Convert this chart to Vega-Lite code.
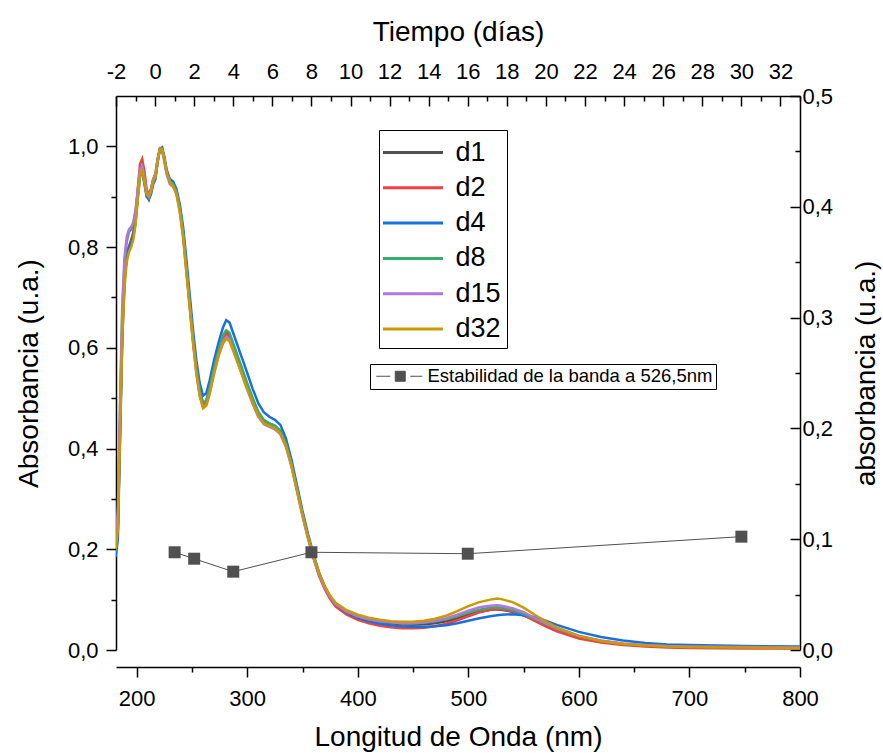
{
  "$schema": "https://vega.github.io/schema/vega-lite/v6.json",
  "width": 684,
  "height": 554,
  "autosize": "none",
  "padding": {"left": 116, "top": 96, "right": 83, "bottom": 103},
  "background": "white",
  "config": {
    "view": {"stroke": null},
    "font": "Liberation Sans",
    "axis": {
      "grid": false,
      "domainColor": "black",
      "tickColor": "black",
      "labelColor": "black",
      "titleColor": "black",
      "labelFont": "Liberation Sans",
      "titleFont": "Liberation Sans",
      "titleFontWeight": "normal",
      "domainWidth": 1.5,
      "tickWidth": 1.5,
      "labelFlush": false,
      "labelOverlap": false,
      "labelFontSize": 22,
      "titleFontSize": 28
    },
    "legend": {"labelFont": "Liberation Sans", "labelColor": "black"}
  },
  "datasets": {
    "spec": [
      {"wl": 181, "d1": 0.19, "d2": 0.195, "d4": 0.185, "d8": 0.195, "d15": 0.2, "d32": 0.2},
      {"wl": 183, "d1": 0.25, "d2": 0.24, "d4": 0.22, "d8": 0.27, "d15": 0.28, "d32": 0.24},
      {"wl": 185, "d1": 0.45, "d2": 0.44, "d4": 0.42, "d8": 0.48, "d15": 0.5, "d32": 0.43},
      {"wl": 187, "d1": 0.64, "d2": 0.63, "d4": 0.62, "d8": 0.67, "d15": 0.69, "d32": 0.62},
      {"wl": 189, "d1": 0.74, "d2": 0.74, "d4": 0.73, "d8": 0.77, "d15": 0.78, "d32": 0.72},
      {"wl": 191, "d1": 0.78, "d2": 0.78, "d4": 0.78, "d8": 0.81, "d15": 0.82, "d32": 0.77},
      {"wl": 193, "d1": 0.8, "d2": 0.8, "d4": 0.8, "d8": 0.83, "d15": 0.835, "d32": 0.79},
      {"wl": 195, "d1": 0.81, "d2": 0.815, "d4": 0.81, "d8": 0.835, "d15": 0.84, "d32": 0.8},
      {"wl": 197, "d1": 0.82, "d2": 0.83, "d4": 0.825, "d8": 0.845, "d15": 0.85, "d32": 0.815},
      {"wl": 199, "d1": 0.85, "d2": 0.86, "d4": 0.855, "d8": 0.87, "d15": 0.875, "d32": 0.845},
      {"wl": 201, "d1": 0.9, "d2": 0.915, "d4": 0.9, "d8": 0.91, "d15": 0.915, "d32": 0.895},
      {"wl": 203, "d1": 0.945, "d2": 0.965, "d4": 0.94, "d8": 0.95, "d15": 0.955, "d32": 0.94},
      {"wl": 205, "d1": 0.955, "d2": 0.975, "d4": 0.95, "d8": 0.96, "d15": 0.96, "d32": 0.955},
      {"wl": 207, "d1": 0.93, "d2": 0.95, "d4": 0.925, "d8": 0.935, "d15": 0.935, "d32": 0.93},
      {"wl": 209, "d1": 0.905, "d2": 0.915, "d4": 0.9, "d8": 0.91, "d15": 0.91, "d32": 0.905},
      {"wl": 211, "d1": 0.895, "d2": 0.905, "d4": 0.895, "d8": 0.9, "d15": 0.9, "d32": 0.9},
      {"wl": 213, "d1": 0.91, "d2": 0.915, "d4": 0.905, "d8": 0.915, "d15": 0.915, "d32": 0.91},
      {"wl": 215, "d1": 0.93, "d2": 0.935, "d4": 0.925, "d8": 0.935, "d15": 0.935, "d32": 0.93},
      {"wl": 217, "d1": 0.94, "d2": 0.945, "d4": 0.935, "d8": 0.945, "d15": 0.945, "d32": 0.94},
      {"wl": 219, "d1": 0.97, "d2": 0.975, "d4": 0.97, "d8": 0.975, "d15": 0.975, "d32": 0.97},
      {"wl": 221, "d1": 0.995, "d2": 0.995, "d4": 0.995, "d8": 0.995, "d15": 0.995, "d32": 0.995},
      {"wl": 223, "d1": 0.995, "d2": 0.995, "d4": 0.998, "d8": 0.995, "d15": 0.99, "d32": 0.995},
      {"wl": 225, "d1": 0.975, "d2": 0.975, "d4": 0.98, "d8": 0.975, "d15": 0.97, "d32": 0.975},
      {"wl": 227, "d1": 0.95, "d2": 0.95, "d4": 0.955, "d8": 0.95, "d15": 0.945, "d32": 0.95},
      {"wl": 230, "d1": 0.93, "d2": 0.93, "d4": 0.935, "d8": 0.93, "d15": 0.925, "d32": 0.93},
      {"wl": 233, "d1": 0.925, "d2": 0.925, "d4": 0.93, "d8": 0.925, "d15": 0.92, "d32": 0.92},
      {"wl": 236, "d1": 0.91, "d2": 0.91, "d4": 0.915, "d8": 0.91, "d15": 0.905, "d32": 0.905},
      {"wl": 239, "d1": 0.88, "d2": 0.875, "d4": 0.885, "d8": 0.88, "d15": 0.87, "d32": 0.87},
      {"wl": 242, "d1": 0.83, "d2": 0.825, "d4": 0.84, "d8": 0.83, "d15": 0.82, "d32": 0.82},
      {"wl": 245, "d1": 0.76, "d2": 0.755, "d4": 0.775, "d8": 0.76, "d15": 0.75, "d32": 0.75},
      {"wl": 248, "d1": 0.69, "d2": 0.685, "d4": 0.705, "d8": 0.69, "d15": 0.68, "d32": 0.68},
      {"wl": 251, "d1": 0.62, "d2": 0.615, "d4": 0.635, "d8": 0.62, "d15": 0.61, "d32": 0.61},
      {"wl": 254, "d1": 0.56, "d2": 0.555, "d4": 0.575, "d8": 0.56, "d15": 0.55, "d32": 0.55},
      {"wl": 257, "d1": 0.515, "d2": 0.51, "d4": 0.53, "d8": 0.515, "d15": 0.505, "d32": 0.505},
      {"wl": 260, "d1": 0.49, "d2": 0.487, "d4": 0.505, "d8": 0.49, "d15": 0.482, "d32": 0.48},
      {"wl": 263, "d1": 0.495, "d2": 0.49, "d4": 0.51, "d8": 0.495, "d15": 0.487, "d32": 0.485},
      {"wl": 266, "d1": 0.52, "d2": 0.515, "d4": 0.535, "d8": 0.52, "d15": 0.51, "d32": 0.508},
      {"wl": 270, "d1": 0.56, "d2": 0.555, "d4": 0.575, "d8": 0.56, "d15": 0.55, "d32": 0.548},
      {"wl": 274, "d1": 0.595, "d2": 0.59, "d4": 0.61, "d8": 0.595, "d15": 0.585, "d32": 0.583},
      {"wl": 278, "d1": 0.62, "d2": 0.618, "d4": 0.64, "d8": 0.625, "d15": 0.612, "d32": 0.608},
      {"wl": 281, "d1": 0.63, "d2": 0.628, "d4": 0.655, "d8": 0.635, "d15": 0.622, "d32": 0.618},
      {"wl": 284, "d1": 0.625, "d2": 0.622, "d4": 0.65, "d8": 0.63, "d15": 0.617, "d32": 0.613},
      {"wl": 288, "d1": 0.6, "d2": 0.597, "d4": 0.625, "d8": 0.605, "d15": 0.592, "d32": 0.59},
      {"wl": 292, "d1": 0.575, "d2": 0.572, "d4": 0.6, "d8": 0.58, "d15": 0.567, "d32": 0.566},
      {"wl": 296, "d1": 0.55, "d2": 0.547, "d4": 0.575, "d8": 0.555, "d15": 0.542, "d32": 0.542},
      {"wl": 300, "d1": 0.525, "d2": 0.522, "d4": 0.55, "d8": 0.53, "d15": 0.517, "d32": 0.518},
      {"wl": 305, "d1": 0.495, "d2": 0.493, "d4": 0.518, "d8": 0.5, "d15": 0.488, "d32": 0.49},
      {"wl": 310, "d1": 0.47, "d2": 0.468, "d4": 0.49, "d8": 0.473, "d15": 0.463, "d32": 0.465},
      {"wl": 315, "d1": 0.455, "d2": 0.453, "d4": 0.472, "d8": 0.457, "d15": 0.448, "d32": 0.45},
      {"wl": 320, "d1": 0.45, "d2": 0.448, "d4": 0.463, "d8": 0.45, "d15": 0.443, "d32": 0.445},
      {"wl": 325, "d1": 0.445, "d2": 0.443, "d4": 0.457, "d8": 0.445, "d15": 0.438, "d32": 0.44},
      {"wl": 330, "d1": 0.435, "d2": 0.433, "d4": 0.447, "d8": 0.435, "d15": 0.428, "d32": 0.43},
      {"wl": 335, "d1": 0.41, "d2": 0.408, "d4": 0.42, "d8": 0.41, "d15": 0.403, "d32": 0.405},
      {"wl": 340, "d1": 0.37, "d2": 0.368, "d4": 0.378, "d8": 0.37, "d15": 0.364, "d32": 0.366},
      {"wl": 345, "d1": 0.32, "d2": 0.318, "d4": 0.327, "d8": 0.32, "d15": 0.315, "d32": 0.317},
      {"wl": 350, "d1": 0.27, "d2": 0.268, "d4": 0.276, "d8": 0.27, "d15": 0.266, "d32": 0.268},
      {"wl": 355, "d1": 0.225, "d2": 0.222, "d4": 0.23, "d8": 0.225, "d15": 0.222, "d32": 0.224},
      {"wl": 360, "d1": 0.185, "d2": 0.182, "d4": 0.19, "d8": 0.185, "d15": 0.183, "d32": 0.186},
      {"wl": 365, "d1": 0.15, "d2": 0.147, "d4": 0.154, "d8": 0.15, "d15": 0.149, "d32": 0.152},
      {"wl": 370, "d1": 0.125, "d2": 0.121, "d4": 0.127, "d8": 0.125, "d15": 0.124, "d32": 0.127},
      {"wl": 375, "d1": 0.105, "d2": 0.101, "d4": 0.106, "d8": 0.105, "d15": 0.105, "d32": 0.108},
      {"wl": 380, "d1": 0.09, "d2": 0.086, "d4": 0.091, "d8": 0.091, "d15": 0.091, "d32": 0.094},
      {"wl": 390, "d1": 0.075, "d2": 0.07, "d4": 0.074, "d8": 0.076, "d15": 0.076, "d32": 0.079},
      {"wl": 400, "d1": 0.066, "d2": 0.06, "d4": 0.064, "d8": 0.067, "d15": 0.067, "d32": 0.07},
      {"wl": 410, "d1": 0.06, "d2": 0.053, "d4": 0.057, "d8": 0.061, "d15": 0.061, "d32": 0.064},
      {"wl": 420, "d1": 0.056, "d2": 0.048, "d4": 0.052, "d8": 0.057, "d15": 0.057, "d32": 0.06},
      {"wl": 430, "d1": 0.053, "d2": 0.045, "d4": 0.049, "d8": 0.055, "d15": 0.055, "d32": 0.057},
      {"wl": 440, "d1": 0.051, "d2": 0.043, "d4": 0.047, "d8": 0.053, "d15": 0.053, "d32": 0.056},
      {"wl": 450, "d1": 0.05, "d2": 0.043, "d4": 0.046, "d8": 0.053, "d15": 0.053, "d32": 0.056},
      {"wl": 460, "d1": 0.051, "d2": 0.044, "d4": 0.046, "d8": 0.054, "d15": 0.055, "d32": 0.058},
      {"wl": 470, "d1": 0.053, "d2": 0.047, "d4": 0.047, "d8": 0.057, "d15": 0.058, "d32": 0.062},
      {"wl": 480, "d1": 0.057, "d2": 0.052, "d4": 0.049, "d8": 0.061, "d15": 0.063, "d32": 0.068},
      {"wl": 490, "d1": 0.063, "d2": 0.059, "d4": 0.053, "d8": 0.067, "d15": 0.07, "d32": 0.077},
      {"wl": 500, "d1": 0.07, "d2": 0.067, "d4": 0.058, "d8": 0.074, "d15": 0.078, "d32": 0.087},
      {"wl": 510, "d1": 0.076, "d2": 0.075, "d4": 0.063, "d8": 0.08, "d15": 0.085, "d32": 0.095},
      {"wl": 520, "d1": 0.08, "d2": 0.08, "d4": 0.067, "d8": 0.084, "d15": 0.088, "d32": 0.1},
      {"wl": 526, "d1": 0.081, "d2": 0.082, "d4": 0.069, "d8": 0.085, "d15": 0.089, "d32": 0.102},
      {"wl": 530, "d1": 0.08, "d2": 0.081, "d4": 0.07, "d8": 0.084, "d15": 0.088, "d32": 0.101},
      {"wl": 540, "d1": 0.076, "d2": 0.077, "d4": 0.071, "d8": 0.08, "d15": 0.083, "d32": 0.095},
      {"wl": 550, "d1": 0.069, "d2": 0.069, "d4": 0.069, "d8": 0.072, "d15": 0.075, "d32": 0.084},
      {"wl": 560, "d1": 0.06, "d2": 0.058, "d4": 0.065, "d8": 0.062, "d15": 0.064, "d32": 0.07},
      {"wl": 570, "d1": 0.05, "d2": 0.047, "d4": 0.058, "d8": 0.052, "d15": 0.053, "d32": 0.057},
      {"wl": 580, "d1": 0.041, "d2": 0.037, "d4": 0.05, "d8": 0.042, "d15": 0.043, "d32": 0.045},
      {"wl": 600, "d1": 0.027, "d2": 0.023, "d4": 0.036, "d8": 0.027, "d15": 0.028, "d32": 0.028},
      {"wl": 620, "d1": 0.018, "d2": 0.015, "d4": 0.026, "d8": 0.018, "d15": 0.019, "d32": 0.018},
      {"wl": 640, "d1": 0.012, "d2": 0.01, "d4": 0.019, "d8": 0.012, "d15": 0.013, "d32": 0.012},
      {"wl": 660, "d1": 0.009, "d2": 0.007, "d4": 0.014, "d8": 0.009, "d15": 0.01, "d32": 0.009},
      {"wl": 680, "d1": 0.007, "d2": 0.005, "d4": 0.011, "d8": 0.007, "d15": 0.008, "d32": 0.007},
      {"wl": 700, "d1": 0.006, "d2": 0.004, "d4": 0.01, "d8": 0.006, "d15": 0.007, "d32": 0.006},
      {"wl": 750, "d1": 0.005, "d2": 0.003, "d4": 0.008, "d8": 0.005, "d15": 0.006, "d32": 0.005},
      {"wl": 800, "d1": 0.004, "d2": 0.003, "d4": 0.007, "d8": 0.004, "d15": 0.005, "d32": 0.004}
    ],
    "stab": [
      {"day": 1, "val": 0.0882},
      {"day": 2, "val": 0.0824},
      {"day": 4, "val": 0.0707},
      {"day": 8, "val": 0.0882},
      {"day": 16, "val": 0.0869},
      {"day": 30, "val": 0.1023}
    ]
  },
  "layer": [
    {
      "data": {"name": "spec"},
      "transform": [{"fold": ["d1", "d2", "d4", "d8", "d15", "d32"], "as": ["series", "abs"]}],
      "mark": {"type": "line", "strokeWidth": 2.5, "clip": true},
      "encoding": {
        "x": {
          "field": "wl", "type": "quantitative",
          "scale": {"domain": [181.3, 800], "nice": false, "zero": false},
          "axis": {
            "orient": "bottom", "offset": 17,
            "values": [200, 250, 300, 350, 400, 450, 500, 550, 600, 650, 700, 750, 800],
            "labelExpr": "datum.value % 100 === 0 ? datum.label : ''",
            "tickSize": {"condition": {"test": "datum.value % 100 === 0", "value": 10}, "value": 5},
            "labelPadding": 11,
            "title": "Longitud de Onda (nm)", "titlePadding": 14
          }
        },
        "y": {
          "field": "abs", "type": "quantitative",
          "scale": {"domain": [0, 1.1], "nice": false},
          "axis": {
            "orient": "left",
            "values": [0, 0.1, 0.2, 0.3, 0.4, 0.5, 0.6, 0.7, 0.8, 0.9, 1.0],
            "labelExpr": "round(datum.value*10) % 2 === 0 ? replace(format(datum.value, '.1f'), '.', ',') : ''",
            "tickSize": {"condition": {"test": "round(datum.value*10) % 2 === 0", "value": 10}, "value": 5},
            "labelPadding": 8,
            "title": "Absorbancia (u.a.)", "titlePadding": 24
          }
        },
        "color": {
          "field": "series", "type": "nominal",
          "scale": {
            "domain": ["d1", "d2", "d4", "d8", "d15", "d32"],
            "range": ["#515151", "#F14040", "#1A6FDF", "#37AD6B", "#B177DE", "#CC9900"]
          },
          "legend": {
            "orient": "none", "legendX": 263, "legendY": 34,
            "title": null,
            "symbolType": "M-2,0H2", "symbolSize": 900, "symbolStrokeWidth": 3,
            "symbolOffset": 11.5,
            "labelFontSize": 27, "labelOffset": 26,
            "strokeColor": "black", "padding": 6, "rowPadding": 5.3
          }
        }
      }
    },
    {
      "data": {"name": "stab"},
      "encoding": {
        "x": {
          "field": "day", "type": "quantitative",
          "scale": {"domain": [-2, 33], "nice": false, "zero": false},
          "axis": {
            "orient": "top",
            "values": [-2, -1, 0, 1, 2, 3, 4, 5, 6, 7, 8, 9, 10, 11, 12, 13, 14, 15, 16, 17, 18, 19, 20, 21, 22, 23, 24, 25, 26, 27, 28, 29, 30, 31, 32, 33],
            "labelExpr": "datum.value % 2 === 0 ? '' + datum.value : ''",
            "tickSize": {"condition": {"test": "datum.value % 2 === 0", "value": -10}, "value": -5},
            "labelPadding": 23,
            "title": "Tiempo (días)", "titlePadding": 9
          }
        },
        "y": {
          "field": "val", "type": "quantitative",
          "scale": {"domain": [0, 0.5], "nice": false},
          "axis": {
            "orient": "right",
            "values": [0, 0.05, 0.1, 0.15, 0.2, 0.25, 0.3, 0.35, 0.4, 0.45, 0.5],
            "labelExpr": "round(datum.value*20) % 2 === 0 ? replace(format(datum.value, '.1f'), '.', ',') : ''",
            "tickSize": {"condition": {"test": "round(datum.value*20) % 2 === 0", "value": -10}, "value": -5},
            "labelPadding": 12,
            "title": "absorbancia (u.a.)", "titlePadding": 20,
            "titleAngle": 270, "titleBaseline": "top"
          }
        }
      },
      "layer": [
        {"mark": {"type": "line", "color": "#505050", "strokeWidth": 1}},
        {
          "mark": {"type": "point", "shape": "square", "filled": true, "size": 144, "opacity": 1},
          "encoding": {
            "color": {
              "datum": "Estabilidad de la banda a 526,5nm",
              "scale": {"range": ["#505050"]},
              "legend": {
                "orient": "none", "legendX": 254, "legendY": 268,
                "title": null,
                "symbolType": "M-3,0H-1.25M-0.625,-0.625H0.625V0.625H-0.625ZM1.25,0H2.75",
                "symbolSize": 256, "symbolStrokeWidth": 1,
                "symbolStrokeColor": "#505050", "symbolOffset": 18,
                "labelFontSize": 18.5, "labelOffset": 18, "labelLimit": 500,
                "strokeColor": "black", "padding": 3
              }
            }
          }
        }
      ]
    }
  ],
  "resolve": {
    "scale": {"x": "independent", "y": "independent", "color": "independent"},
    "axis": {"x": "independent", "y": "independent"},
    "legend": {"color": "independent"}
  }
}
